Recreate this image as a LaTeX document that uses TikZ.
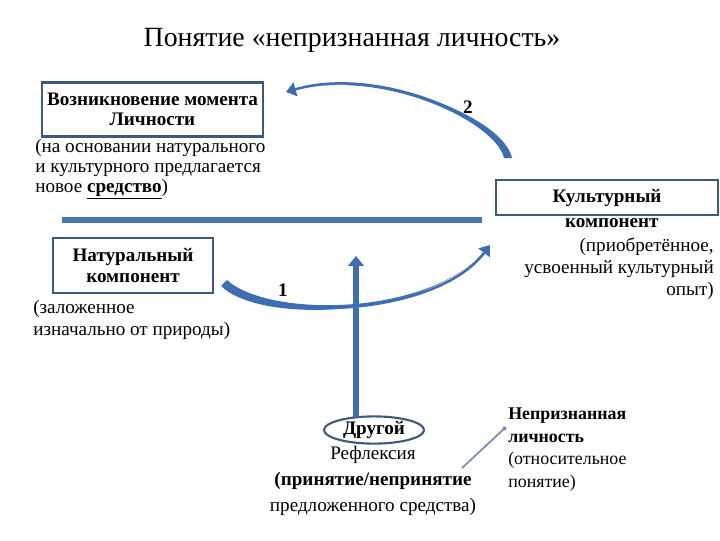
\documentclass[tikz,border=0pt]{standalone}
\usepackage{fontspec}
\setmainfont{Liberation Serif}
\usetikzlibrary{arrows.meta,positioning,calc,shapes.geometric}
\definecolor{framec}{HTML}{3B5A7E}
\definecolor{arrowc}{HTML}{3E6EB2}
\definecolor{linec}{HTML}{4A76AE}
\definecolor{thinc}{HTML}{6F8DB3}

\begin{document}
\begin{tikzpicture}[x=0.025cm, y=-0.025cm, every node/.style={font=\fontsize{13.6}{14.2}\selectfont, inner sep=0pt}, frame/.style={draw=framec, line width=2pt, align=center, font=\fontsize{13.6}{14.2}\selectfont\bfseries}, note/.style={align=left, font=\fontsize{13.6}{14.2}\selectfont}, num/.style={font=\fontsize{13.6}{14}\selectfont\bfseries}, curvearrow/.style={draw=arrowc, line width=1.8pt, -{Triangle[length=7pt,width=10pt]}}]
\useasboundingbox (0,0) rectangle (720,540);
\node (title) at (352,40) {\fontsize{19.8}{22}\selectfont Понятие «непризнанная личность»};
\node[frame, minimum width=5.525cm, minimum height=1.35cm] (moment) at (152.5,109.5) {Возникновение момента\\Личности};
\node[note, anchor=north west] (momtext) at (35,139) {(на основании натурального\\и культурного предлагается\\новое \underline{\textbf{средство}})};
\node[frame, minimum width=5.55cm, minimum height=0.875cm] (cult) at (607,197.5) {Культурный};
\node[font=\fontsize{13.6}{14.2}\selectfont\bfseries, below=1pt of cult.south, xshift=0.12cm] (cultname) {компонент};
\node[align=right, anchor=north east, font=\fontsize{13.6}{15.6}\selectfont] (culttext) at (714,238) {(приобретённое,\\усвоенный культурный\\опыт)};
\node[frame, minimum width=4cm, minimum height=1.375cm, font=\fontsize{13.6}{15.6}\selectfont\bfseries] (nat) at (133,265.5) {Натуральный\\компонент};
\node[note, anchor=north west, font=\fontsize{13.6}{15.6}\selectfont] (nattext) at (33,300) {(заложенное\\изначально от природы)};
\node[ellipse, draw=framec, line width=1.5pt, minimum width=2.5cm, minimum height=0.68cm, font=\fontsize{13.6}{14.2}\selectfont\bfseries] (other) at (374,430) {Другой};
\node[align=center, anchor=north, font=\fontsize{13.6}{18.5}\selectfont] (refl) at (373,446) {Рефлексия\\\textbf{(принятие/непринятие}\\предложенного средства)};
\node[note, anchor=north west, font=\fontsize{12.7}{16}\selectfont] (unrec) at (508,408) {\textbf{Непризнанная}\\\textbf{личность}\\(относительное\\понятие)};
\node[num] (one) at (283,290) {1};
\node[num] (two) at (468,107) {2};
% connectors
\coordinate (hl) at (62,220);
\coordinate (hr) at (482,220);
\draw[linec, line width=4pt] (hl) -- (hr);
\coordinate (t1) at (224,283);
\coordinate (e1) at (490,245);
\fill[arrowc] ($(t1)+(3,-3)$) .. controls (268,318) and (435,318) .. (e1) .. controls (435,318) and (262,326) .. ($(t1)+(-3,3)$) -- cycle;
\draw[curvearrow] (t1) .. controls (265,322) and (435,318) .. (e1);
\coordinate (t2) at (508,158);
\coordinate (e2) at (286,92);
\fill[arrowc] ($(t2)+(4,0)$) .. controls (504,118) and (380,65) .. (e2) .. controls (380,65) and (496,122) .. ($(t2)+(-4,0)$) -- cycle;
\draw[curvearrow] (t2) .. controls (500,120) and (380,65) .. (e2);
\coordinate (vb) at (356,417);
\coordinate (vt) at (356,256);
\draw[arrowc, line width=4.5pt, -{Triangle[length=7pt,width=11pt]}] (vb) -- (vt);
\coordinate (pl) at (462,468);
\coordinate (pr) at (506,427);
\draw[thinc, line width=1.2pt, -{Circle[length=3pt]}] (pl) -- (pr);
\end{tikzpicture}
\end{document}
